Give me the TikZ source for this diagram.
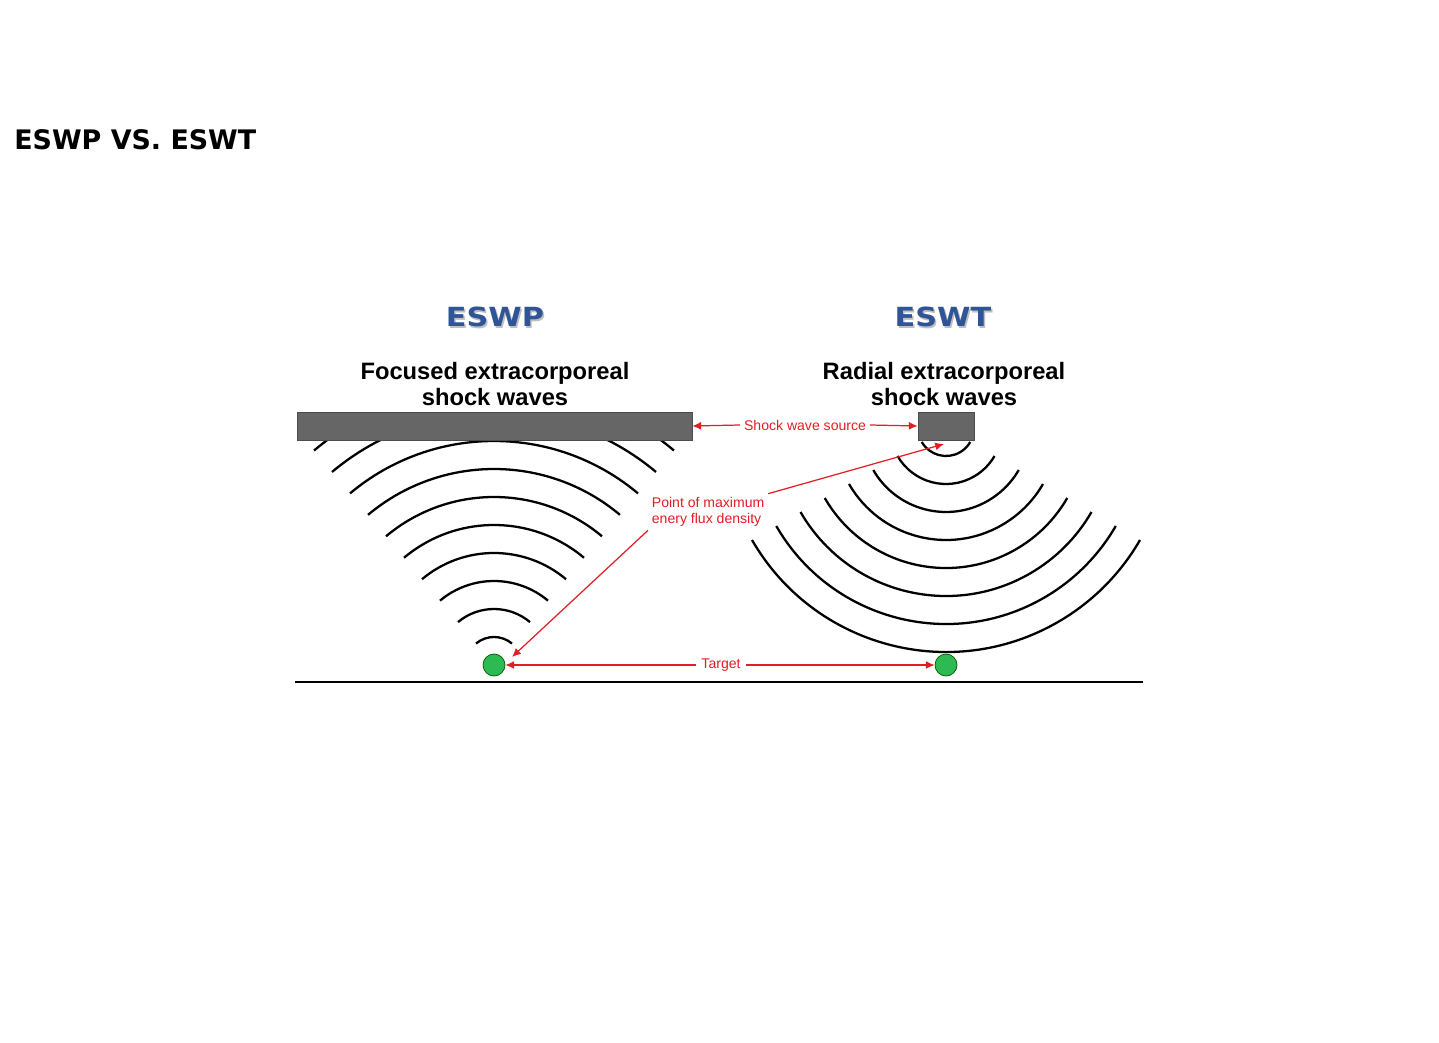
\documentclass[tikz,border=0pt]{standalone}
\usepackage{fontspec}
\usetikzlibrary{arrows.meta}
\setmainfont{Liberation Sans}
\newfontfamily\verdana{DejaVu Sans}
\definecolor{arrowred}{RGB}{226,29,36}
\definecolor{eswblue}{RGB}{47,85,151}
\definecolor{bargray}{RGB}{102,102,102}
\definecolor{dotgreen}{RGB}{46,186,82}
\newcommand{\lbl}{\fontsize{8}{9}\selectfont}

\begin{document}
\begin{tikzpicture}[x=0.02cm,y=0.02cm,
   wave/.style={line width=1.3pt},
   src/.style={draw=black!70,fill=bargray,inner sep=0pt,minimum height=0.56cm},
   target/.style={circle,draw=green!35!black,fill=dotgreen,inner sep=0pt,minimum size=0.44cm},
   heading/.style={font=\verdana\bfseries\fontsize{15}{17}\selectfont,inner sep=0pt},
   subhead/.style={align=center,font=\bfseries\fontsize{13.5}{15.3}\selectfont},
   redlbl/.style={text=arrowred,font=\lbl,inner sep=2pt},
   redarrow/.style={draw=arrowred,line width=0.7pt,-{Latex[length=5pt,width=4.5pt]}}]
   \useasboundingbox (0,0) rectangle (1439,1042);
   % title
   \node[anchor=base west,inner sep=0pt,font=\verdana\bfseries\fontsize{15.3}{18}\selectfont]
     (title) at (14,892) {ESWP VS. ESWT};
   % headings with a light shadow
   \node[heading,text=black!25] at (496.5,723.5) {\scalebox{1.15}[1]{ESWP}};
   \node[heading,text=eswblue] (eswp) at (495,725) {\scalebox{1.15}[1]{ESWP}};
   \node[heading,text=black!25] at (944.5,723.5) {\scalebox{1.15}[1]{ESWT}};
   \node[heading,text=eswblue] (eswt) at (943,725) {\scalebox{1.15}[1]{ESWT}};
   \node[subhead] (focused) at (495,658) {Focused extracorporeal\\shock waves};
   \node[subhead] (radial) at (944,658) {Radial extracorporeal\\shock waves};
   % targets and ground line
   \node[target] (ltgt) at (494,377) {};
   \node[target] (rtgt) at (946,377) {};
   \draw[line width=1.1pt] (295,360) -- (1143,360);
   % focused waves
   \begin{scope}
     \clip (280,365) rectangle (720,602);
     \foreach \k in {1,...,10}
       \draw[wave] (ltgt.center) ++(130:28*\k) arc[start angle=130,end angle=50,radius=28*\k];
   \end{scope}
   % radial waves
   \coordinate (rctr) at (946,614);
   \foreach \k in {1,...,8}
     \draw[wave] (rctr) ++(210:28*\k) arc[start angle=210,end angle=330,radius=28*\k];
   % sources
   \node[src,minimum width=7.9cm] (lsrc) at (494.5,616) {};
   \node[src,minimum width=1.12cm] (rsrc) at (946,616) {};
   % red labels
   \node[redlbl] (source) at (805,617) {Shock wave source};
   \draw[redarrow] (source.west) -- (lsrc.east);
   \draw[redarrow] (source.east) -- (rsrc.west);
   \node[redlbl,align=left,anchor=west] (peak) at (648,530) {Point of maximum\\enery flux density};
   \coordinate (rfocus) at (944,598);
   \coordinate (lfocus) at (512,385);
   \draw[redarrow] (peak.north east) -- (rfocus);
   \draw[redarrow] (peak.south west) -- (lfocus);
   \node[redlbl,inner sep=3pt] (tgt) at (721,377) {Target};
   \draw[redarrow] (tgt.west) -- (ltgt.east);
   \draw[redarrow] (tgt.east) -- (rtgt.west);
\end{tikzpicture}
\end{document}
